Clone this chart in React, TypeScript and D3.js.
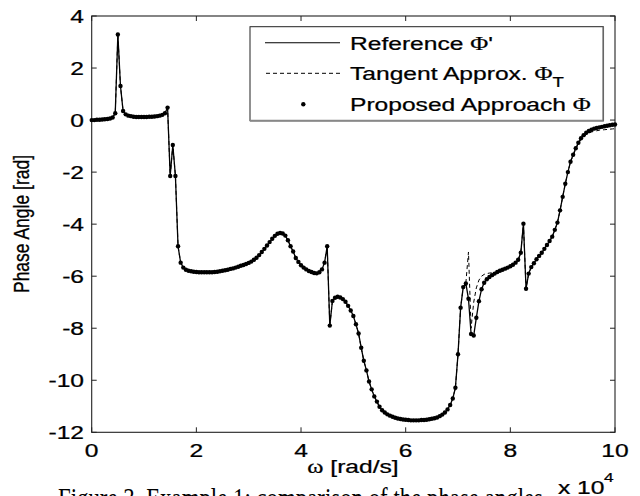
import React, { useEffect, useRef } from 'react';
import * as d3 from 'd3';

// samples every 500 rad/s from 0 to 1e5
const omega = d3.range(0, 100001, 500);

const referencePhase = [
  0.00, 0.00, 0.01, 0.01, 0.02, 0.03, 0.04, 0.06, 0.10, 0.26,
  3.29, 1.31, 0.35, 0.22, 0.17, 0.15, 0.13, 0.12, 0.12, 0.12,
  0.12, 0.12, 0.13, 0.13, 0.14, 0.15, 0.17, 0.20, 0.26, 0.48,
  -2.15, -0.96, -2.15, -4.85, -5.48, -5.67, -5.75, -5.79, -5.81, -5.83,
  -5.84, -5.85, -5.85, -5.85, -5.85, -5.85, -5.85, -5.84, -5.83, -5.81,
  -5.79, -5.77, -5.75, -5.72, -5.70, -5.67, -5.64, -5.60, -5.57, -5.53,
  -5.49, -5.44, -5.37, -5.29, -5.19, -5.07, -4.95, -4.82, -4.69, -4.56,
  -4.45, -4.37, -4.34, -4.36, -4.44, -4.62, -4.85, -5.05, -5.30, -5.45,
  -5.58, -5.67, -5.74, -5.80, -5.84, -5.88, -5.89, -5.85, -5.74, -5.48,
  -4.85, -7.90, -6.95, -6.83, -6.79, -6.82, -6.88, -6.98, -7.14, -7.32,
  -7.53, -7.85, -8.20, -8.75, -9.25, -9.62, -10.05, -10.35, -10.62, -10.82,
  -11.02, -11.15, -11.24, -11.31, -11.36, -11.40, -11.44, -11.47, -11.49, -11.51,
  -11.52, -11.53, -11.54, -11.54, -11.54, -11.54, -11.53, -11.53, -11.52, -11.50,
  -11.48, -11.46, -11.43, -11.38, -11.32, -11.24, -11.12, -10.95, -10.70, -10.29,
  -9.00, -7.21, -6.42, -6.28, -6.87, -8.22, -8.28, -7.60, -6.96, -6.50,
  -6.25, -6.12, -6.03, -5.96, -5.90, -5.84, -5.79, -5.75, -5.71, -5.67,
  -5.62, -5.56, -5.48, -5.37, -5.10, -3.98, -6.48, -5.90, -5.65, -5.50,
  -5.35, -5.22, -5.10, -4.95, -4.80, -4.65, -4.48, -4.22, -3.94, -3.47,
  -2.95, -2.45, -2.00, -1.60, -1.33, -1.08, -0.87, -0.70, -0.58, -0.49,
  -0.42, -0.37, -0.33, -0.30, -0.28, -0.26, -0.24, -0.22, -0.20, -0.18,
  -0.17,
];

const tangentPhase = [
  0.00, 0.00, 0.01, 0.01, 0.02, 0.03, 0.04, 0.06, 0.10, 0.26,
  3.29, 1.31, 0.35, 0.22, 0.17, 0.15, 0.13, 0.12, 0.12, 0.12,
  0.12, 0.12, 0.13, 0.13, 0.14, 0.15, 0.17, 0.20, 0.26, 0.48,
  -2.15, -0.96, -2.15, -4.85, -5.48, -5.67, -5.75, -5.79, -5.81, -5.83,
  -5.84, -5.85, -5.85, -5.85, -5.85, -5.85, -5.85, -5.84, -5.83, -5.81,
  -5.79, -5.77, -5.75, -5.72, -5.70, -5.67, -5.64, -5.60, -5.57, -5.53,
  -5.49, -5.44, -5.37, -5.29, -5.19, -5.07, -4.95, -4.82, -4.69, -4.56,
  -4.45, -4.37, -4.34, -4.36, -4.44, -4.62, -4.85, -5.05, -5.30, -5.45,
  -5.58, -5.67, -5.74, -5.80, -5.84, -5.88, -5.89, -5.85, -5.74, -5.48,
  -4.85, -7.90, -6.95, -6.83, -6.79, -6.82, -6.88, -6.98, -7.14, -7.32,
  -7.53, -7.85, -8.20, -8.75, -9.25, -9.62, -10.05, -10.35, -10.62, -10.82,
  -11.02, -11.15, -11.24, -11.31, -11.36, -11.40, -11.44, -11.47, -11.49, -11.51,
  -11.52, -11.53, -11.54, -11.54, -11.54, -11.54, -11.53, -11.53, -11.52, -11.50,
  -11.48, -11.46, -11.43, -11.38, -11.32, -11.24, -11.12, -10.95, -10.70, -10.29,
  -9.00, -7.21, -6.42, -6.26, -5.07, -8.00, -7.00, -6.45, -6.15, -6.00,
  -5.93, -5.90, -5.88, -5.87, -5.86, -5.83, -5.79, -5.75, -5.71, -5.67,
  -5.62, -5.56, -5.48, -5.37, -5.10, -3.98, -6.48, -5.90, -5.65, -5.50,
  -5.35, -5.22, -5.10, -4.95, -4.80, -4.65, -4.48, -4.22, -3.94, -3.47,
  -2.95, -2.45, -2.00, -1.60, -1.36, -1.12, -0.90, -0.75, -0.64, -0.56,
  -0.50, -0.46, -0.43, -0.41, -0.39, -0.38, -0.37, -0.36, -0.35, -0.34,
  -0.33,
];

// the proposed dots sit on the reference curve everywhere in the picture
const proposedPhase = referencePhase;

const xTicks = [0, 20000, 40000, 60000, 80000, 100000];
const xTickLabels = ['0', '2', '4', '6', '8', '10'];
const yTicks = [-12, -10, -8, -6, -4, -2, 0, 2, 4];

const W = 640;
const H = 496;
const SANS = "'Liberation Sans', Arial, Helvetica, sans-serif";
const SERIF = "'Liberation Serif', 'Times New Roman', serif";
const FS = 18.5;
const SX = 1.33; // the figure text is stretched sideways

export default function App() {
  const svgRef = useRef<SVGSVGElement>(null);

  useEffect(() => {
    if (!svgRef.current) return;
    const svg = d3.select(svgRef.current);
    svg.selectAll('*').remove();

    const left = 91.7, right = 615, top = 16, bottom = 432.3;
    const x = d3.scaleLinear().domain([0, 100000]).range([left, right]);
    const y = d3.scaleLinear().domain([-12, 4]).range([bottom, top]);

    svg.append('rect').attr('width', W).attr('height', H).attr('fill', '#fff');

    const text = (px: number, py: number, str: string, anchor = 'start', size = FS) =>
      svg.append('text')
        .attr('transform', `translate(${px},${py}) scale(${SX},1)`)
        .attr('text-anchor', anchor)
        .attr('font-family', SANS)
        .attr('font-size', size)
        .attr('fill', '#000')
        .attr('stroke', '#000').attr('stroke-width', 0.25)
        .text(str);

    // box and inward ticks
    svg.append('rect')
      .attr('x', left).attr('y', top)
      .attr('width', right - left).attr('height', bottom - top)
      .attr('fill', 'none').attr('stroke', '#222').attr('stroke-width', 1.1);

    const tl = 5;
    xTicks.forEach(t => {
      svg.append('line').attr('x1', x(t)).attr('x2', x(t)).attr('y1', bottom).attr('y2', bottom - tl)
        .attr('stroke', '#222');
      svg.append('line').attr('x1', x(t)).attr('x2', x(t)).attr('y1', top).attr('y2', top + tl)
        .attr('stroke', '#222');
    });
    yTicks.forEach(t => {
      svg.append('line').attr('x1', left).attr('x2', left + tl).attr('y1', y(t)).attr('y2', y(t))
        .attr('stroke', '#222');
      svg.append('line').attr('x1', right).attr('x2', right - tl).attr('y1', y(t)).attr('y2', y(t))
        .attr('stroke', '#222');
    });

    xTicks.forEach((t, i) => text(x(t), 456.5, xTickLabels[i], 'middle'));
    yTicks.forEach(t => text(84, y(t) + 6.7, String(t), 'end'));

    // curves
    const line = d3.line<number>()
      .x((_, i) => x(omega[i]))
      .y(d => y(d));

    svg.append('path')
      .datum(tangentPhase)
      .attr('fill', 'none').attr('stroke', '#000').attr('stroke-width', 1)
      .attr('stroke-dasharray', '4,3')
      .attr('d', line);

    svg.append('path')
      .datum(referencePhase)
      .attr('fill', 'none').attr('stroke', '#000').attr('stroke-width', 1.3)
      .attr('d', line);

    svg.append('g').selectAll('circle')
      .data(proposedPhase)
      .enter().append('circle')
      .attr('cx', (_, i) => x(omega[i]))
      .attr('cy', d => y(d))
      .attr('r', 2.2)
      .attr('fill', '#000');

    // axis labels
    const xl = svg.append('text')
      .attr('transform', `translate(353,473) scale(${SX},1)`)
      .attr('text-anchor', 'middle')
      .attr('font-family', SANS).attr('font-size', FS)
      .attr('stroke', '#000').attr('stroke-width', 0.25);
    xl.append('tspan').attr('font-family', SERIF).text('ω');
    xl.append('tspan').text(' [rad/s]');

    svg.append('text')
      .attr('transform', 'translate(28.5,224) rotate(-90) scale(1,1.25)')
      .attr('text-anchor', 'middle')
      .attr('font-family', SANS).attr('font-size', 17.5)
      .attr('stroke', '#000').attr('stroke-width', 0.25)
      .text('Phase Angle [rad]');

    text(558, 494, 'x 10');
    text(604, 482, '4', 'start', 13);

    // legend
    const lx0 = 250, ly0 = 26.7, lx1 = 603.3, ly1 = 120.7;
    svg.append('rect')
      .attr('x', lx0).attr('y', ly0).attr('width', lx1 - lx0).attr('height', ly1 - ly0)
      .attr('fill', '#fff').attr('stroke', '#222').attr('stroke-width', 1);
    svg.append('line').attr('x1', lx0).attr('x2', lx1 + 0.5).attr('y1', ly1).attr('y2', ly1)
      .attr('stroke', '#888').attr('stroke-width', 2);
    svg.append('line').attr('x1', lx1).attr('x2', lx1).attr('y1', ly0).attr('y2', ly1)
      .attr('stroke', '#666').attr('stroke-width', 1.5);

    const rows = [42.7, 73.3, 104.3];
    svg.append('line').attr('x1', 265).attr('x2', 340).attr('y1', rows[0]).attr('y2', rows[0])
      .attr('stroke', '#000').attr('stroke-width', 1.1);
    svg.append('line').attr('x1', 266).attr('x2', 340).attr('y1', rows[1]).attr('y2', rows[1])
      .attr('stroke', '#000').attr('stroke-width', 1).attr('stroke-dasharray', '4,3');
    svg.append('circle').attr('cx', 303.3).attr('cy', rows[2]).attr('r', 2.2).attr('fill', '#000');

    const legendText = (py: number) =>
      svg.append('text')
        .attr('transform', `translate(350,${py}) scale(${SX},1)`)
        .attr('font-family', SANS).attr('font-size', FS)
        .attr('stroke', '#000').attr('stroke-width', 0.25);

    const t1 = legendText(49.5);
    t1.append('tspan').text('Reference ');
    t1.append('tspan').attr('font-family', SERIF).text('Φ');
    t1.append('tspan').text("'");

    const t2 = legendText(80.2);
    t2.append('tspan').text('Tangent Approx. ');
    t2.append('tspan').attr('font-family', SERIF).text('Φ');
    t2.append('tspan').attr('font-size', 14).attr('dy', 7).text('T');

    const t3 = legendText(111.2);
    t3.append('tspan').text('Proposed Approach ');
    t3.append('tspan').attr('font-family', SERIF).text('Φ');

    // cropped caption under the figure
    svg.append('text')
      .attr('x', 58).attr('y', 508)
      .attr('font-family', SERIF).attr('font-size', 29)
      .attr('textLength', 485).attr('lengthAdjust', 'spacingAndGlyphs')
      .text('Figure 3. Example 1: comparison of the phase angles');
  }, []);

  return (
    <svg
      ref={svgRef}
      width={W}
      height={H}
      viewBox={`0 0 ${W} ${H}`}
      style={{ position: 'absolute', left: 0, top: 0, display: 'block' }}
    />
  );
}
